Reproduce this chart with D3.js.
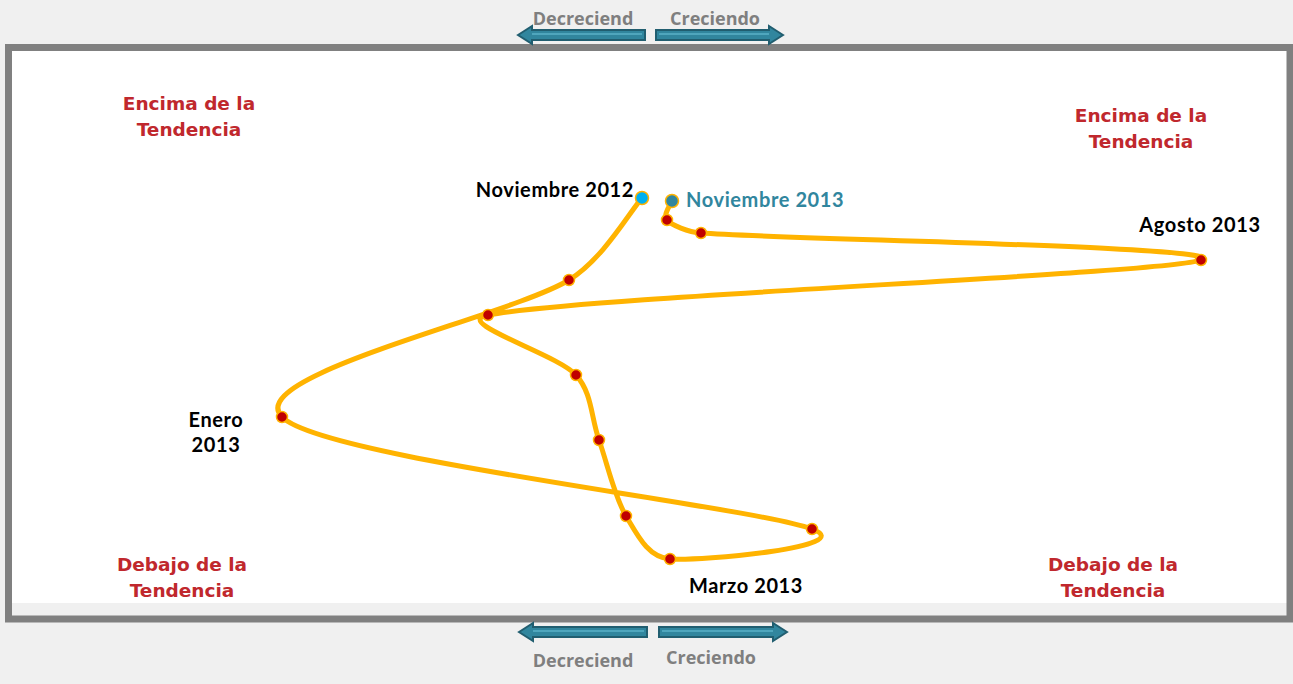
<!DOCTYPE html>
<html><head><meta charset="utf-8">
<script src="https://cdn.jsdelivr.net/npm/d3@7"></script>
<style>
html,body{margin:0;padding:0;background:#f0f0f0;}
svg{display:block;}
</style></head>
<body>
<script>
// ---- data ----
const months = ["Noviembre 2012","Diciembre 2012","Enero 2013","Febrero 2013","Marzo 2013","Abril 2013","Mayo 2013","Junio 2013","Julio 2013","Agosto 2013","Septiembre 2013","Octubre 2013","Noviembre 2013"];
const growth = [-0.18,-1.64,-7.38,3.22,0.38,-0.50,-1.04,-1.50,-3.26,11.00,1.00,0.32,0.42];
const trend  = [2.58,0.94,-1.80,-4.04,-4.64,-3.78,-2.26,-0.96,0.24,1.34,1.88,2.14,2.52];
const quadrantLabels = [["Encima de la","Tendencia"],["Encima de la","Tendencia"],["Debajo de la","Tendencia"],["Debajo de la","Tendencia"]];
const axisWords = ["Decreciend","Creciendo"];

const W=1293,H=684;
const svg=d3.select("body").append("svg").attr("width",W).attr("height",H);
const defs=svg.append("defs");
const f=defs.append("filter").attr("id","sh").attr("x","-50%").attr("y","-50%").attr("width","200%").attr("height","200%");
f.append("feGaussianBlur").attr("in","SourceAlpha").attr("stdDeviation",1.5).attr("result","b");
f.append("feOffset").attr("in","b").attr("dx",1).attr("dy",1).attr("result","o");
f.append("feComponentTransfer").attr("in","o").attr("result","o2").append("feFuncA").attr("type","linear").attr("slope",0.25);
const m=f.append("feMerge"); m.append("feMergeNode").attr("in","o2"); m.append("feMergeNode").attr("in","SourceGraphic");

const x=d3.scaleLinear().domain([-12.78,12.72]).range([12,1287]);
const y=d3.scaleLinear().domain([-5.52,5.52]).range([603,51]);

// frame
svg.append("rect").attr("x",12).attr("y",51).attr("width",1275).attr("height",552).attr("fill","#fff");
svg.append("rect").attr("x",8.5).attr("y",47.5).attr("width",1281.5).attr("height",571.5)
  .attr("fill","none").attr("stroke","#808080").attr("stroke-width",7);

// reference lines
svg.append("line").attr("x1",12).attr("x2",1287).attr("y1",y(0)).attr("y2",y(0))
  .attr("stroke","#c9302c").attr("stroke-width",3).attr("stroke-dasharray","9,5").attr("filter","url(#sh)");
svg.append("line").attr("x1",x(0)).attr("x2",x(0)).attr("y1",53).attr("y2",606)
  .attr("stroke","#3a8ea6").attr("stroke-width",3).attr("stroke-dasharray","9,5").attr("filter","url(#sh)");

// quadrant labels
const qpos=[[189,110],[1141,122],[182,571],[1113,571]];
quadrantLabels.forEach((q,i)=>{
  const t=svg.append("text").attr("text-anchor","middle").attr("font-family","DejaVu Sans").attr("font-weight","bold")
    .attr("font-size",18.5).attr("fill","#c0282d");
  q.forEach((s,j)=>t.append("tspan").attr("x",qpos[i][0]).attr("y",qpos[i][1]+j*26).text(s));
});

// arrows
function arrow(x0,x1,cy,dir){
  const bh=5,hh=9,hl=14;
  let p;
  if(dir<0){
    p=`M${x0},${cy} L${x0+hl},${cy-hh} L${x0+hl},${cy-bh} L${x1},${cy-bh} L${x1},${cy+bh} L${x0+hl},${cy+bh} L${x0+hl},${cy+hh} Z`;
  } else {
    p=`M${x1},${cy} L${x1-hl},${cy-hh} L${x1-hl},${cy-bh} L${x0},${cy-bh} L${x0},${cy+bh} L${x1-hl},${cy+bh} L${x1-hl},${cy+hh} Z`;
  }
  svg.append("path").attr("d",p).attr("fill","#31869e").attr("stroke","#215e70").attr("stroke-width",2).attr("stroke-linejoin","miter");
  svg.append("line").attr("x1",x0+(dir<0?hl:3)).attr("x2",x1-(dir<0?3:hl)).attr("y1",cy-1).attr("y2",cy-1)
    .attr("stroke","#4fa6bd").attr("stroke-width",2);
}
arrow(518,645,35,-1); arrow(656,783,35,1);
arrow(519,647,632,-1); arrow(659,787,632,1);
const aw=[[583,25,axisWords[0]],[715,25,axisWords[1]],[583,667,axisWords[0]],[711,664,axisWords[1]]];
aw.forEach(a=>svg.append("text").attr("x",a[0]).attr("y",a[1]).attr("text-anchor","middle")
  .attr("font-family","Open Sans").attr("font-weight","bold").attr("font-size",18).attr("fill","#7f7f7f").text(a[2]));

// curve (spreadsheet-style smoothing: Catmull-Rom tangents, limited by segment length)
const pts=growth.map((g,i)=>[x(g),y(trend[i])]);
function smoothPath(P){
  const p=d3.path(); const n=P.length; const k=0.36;
  const tan=i=>{const a=P[Math.max(0,i-1)],b=P[Math.min(n-1,i+1)];return [(b[0]-a[0])/6,(b[1]-a[1])/6];};
  const lim=(t,len)=>{const l=Math.hypot(t[0],t[1]);const mx=len*k;return l>mx?[t[0]*mx/l,t[1]*mx/l]:t;};
  p.moveTo(P[0][0],P[0][1]);
  for(let i=0;i<n-1;i++){
    const a=P[i],b=P[i+1],len=Math.hypot(b[0]-a[0],b[1]-a[1]);
    const t0=lim(tan(i),len),t1=lim(tan(i+1),len);
    p.bezierCurveTo(a[0]+t0[0],a[1]+t0[1],b[0]-t1[0],b[1]-t1[1],b[0],b[1]);
  }
  return p.toString();
}
svg.append("path").attr("d",smoothPath(pts)).attr("fill","none").attr("stroke","#ffb300").attr("stroke-width",5)
  .attr("stroke-linecap","round").attr("stroke-linejoin","round");

// points
svg.selectAll("circle.pt").data(pts).enter().append("circle")
  .attr("cx",d=>d[0]).attr("cy",d=>d[1])
  .attr("r",(d,i)=>(i===0||i===pts.length-1)?6.5:5.5)
  .attr("fill",(d,i)=>i===0?"#00b0f0":(i===pts.length-1?"#31869e":"#c00000"))
  .attr("stroke","#ffb300").attr("stroke-width",1.5);

// point labels
function lab(txt,px,py,anchor,color){
  svg.append("text").attr("x",px).attr("y",py).attr("text-anchor",anchor).attr("font-family","Lato")
    .attr("font-weight","bold").attr("font-size",20).attr("letter-spacing",0.6).attr("fill",color||"#000").text(txt);
}
lab(months[0],pts[0][0]-8,197,"end");
lab(months[12],pts[12][0]+14,207,"start","#31869e");
lab(months[9],1200,232,"middle");
lab(months[4],pts[4][0]+19,593,"start");
lab(months[2].split(" ")[0],216,427,"middle");
lab(months[2].split(" ")[1],216,452,"middle");
</script>
</body></html>
